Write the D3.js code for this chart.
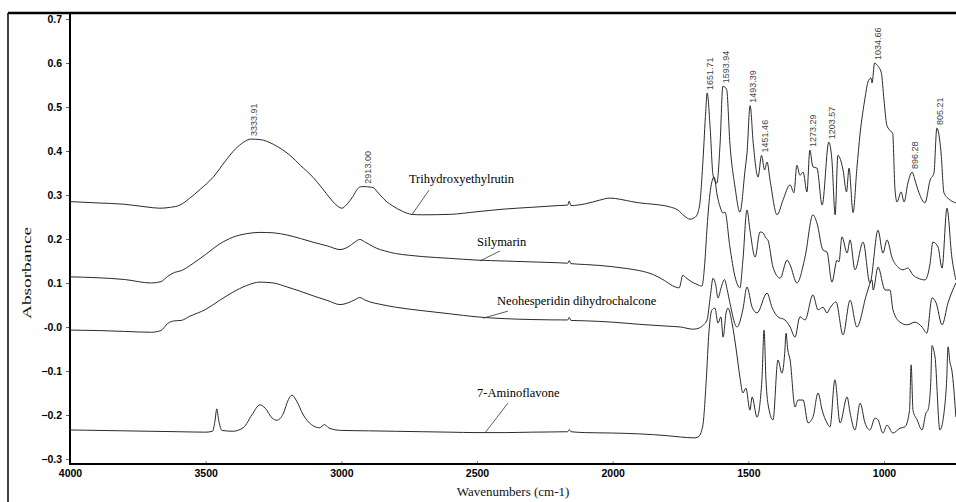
<!DOCTYPE html>
<html>
<head>
<meta charset="utf-8">
<title>FTIR spectra</title>
<script src="https://d3js.org/d3.v7.min.js"></script>
<style>
  html, body { margin: 0; padding: 0; background: #fff; }
  svg { display: block; }
  .tick text { font-family: "Liberation Sans", Arial, sans-serif; font-weight: bold; font-size: 10.5px; fill: #000; }
  .spectrum { fill: none; stroke: #2a2a2a; stroke-width: 1; }
  .peak-label { font-family: "Liberation Sans", Arial, sans-serif; font-size: 9px; fill: #444; }
  .series-label { font-family: "Liberation Serif", "Times New Roman", serif; font-size: 12.5px; fill: #000; }
  .axis-title { font-family: "Liberation Serif", "Times New Roman", serif; font-size: 13px; fill: #111; }
</style>
</head>
<body>
<div id="chart"></div>
<script>
// [wavenumber cm-1, absorbance]
var trihydroxyethylrutin = [
  [4000,0.285],[3900,0.282],[3800,0.279],[3720,0.273],[3670,0.270],[3630,0.272],[3595,0.277],[3560,0.292],
  [3520,0.313],[3473,0.340],[3430,0.375],[3390,0.405],[3360,0.420],[3333.91,0.427],[3300,0.426],[3250,0.415],
  [3189,0.390],[3150,0.367],[3104,0.340],[3070,0.315],[3042,0.293],[3020,0.278],[2998,0.270],[2978,0.280],
  [2957,0.297],[2940,0.314],[2925,0.319],[2913,0.319],[2895,0.318],[2883,0.317],[2870,0.309],[2857,0.300],
  [2835,0.286],[2810,0.275],[2775,0.263],[2740,0.256],[2700,0.255],[2600,0.256],[2500,0.262],[2400,0.268],
  [2300,0.272],[2200,0.276],[2166,0.277],[2160,0.286],[2154,0.276],[2100,0.280],[2050,0.288],[2010,0.293],
  [1970,0.290],[1930,0.285],[1900,0.282],[1850,0.279],[1790,0.273],[1760,0.266],[1735,0.252],[1715,0.245],
  [1695,0.250],[1680,0.275],[1667,0.380],[1657,0.490],[1651.71,0.532],[1641,0.455],[1630,0.345],[1616,0.327],
  [1604,0.418],[1593.94,0.547],[1580,0.540],[1568,0.418],[1549,0.318],[1531,0.261],[1512,0.357],[1505,0.395],
  [1493.39,0.503],[1482,0.418],[1464,0.341],[1451.46,0.390],[1440,0.357],[1431,0.375],[1420,0.334],[1394,0.255],
  [1372,0.289],[1346,0.323],[1332,0.305],[1321,0.368],[1310,0.345],[1298,0.352],[1284,0.307],[1273.29,0.402],
  [1262,0.364],[1247,0.361],[1228,0.277],[1203.57,0.420],[1192,0.380],[1180,0.255],[1170,0.390],[1151,0.357],
  [1138,0.307],[1129,0.361],[1114,0.260],[1100,0.360],[1088,0.440],[1070,0.520],[1059,0.557],[1048,0.566],
  [1044,0.555],[1034.66,0.600],[1025,0.595],[1010,0.578],[1000,0.516],[990,0.460],[980,0.448],[968,0.440],
  [960,0.318],[952,0.284],[937,0.307],[926,0.284],[912,0.327],[896.28,0.352],[886,0.334],[871,0.305],
  [849,0.282],[830,0.334],[816,0.350],[805.21,0.452],[790,0.398],[779,0.305],[757,0.289],[735,0.282]
];

var silymarin = [
  [4000,0.114],[3900,0.112],[3800,0.108],[3700,0.100],[3665,0.103],[3640,0.115],[3615,0.124],[3590,0.128],
  [3550,0.143],[3500,0.165],[3450,0.188],[3400,0.204],[3350,0.212],[3300,0.215],[3250,0.214],[3200,0.209],
  [3150,0.201],[3100,0.192],[3050,0.184],[3005,0.176],[2975,0.182],[2950,0.193],[2932,0.199],[2915,0.194],
  [2895,0.187],[2870,0.179],[2840,0.173],[2800,0.167],[2750,0.163],[2700,0.160],[2600,0.156],[2500,0.152],
  [2400,0.150],[2300,0.148],[2200,0.146],[2166,0.145],[2160,0.151],[2154,0.144],[2100,0.142],[2050,0.140],
  [2000,0.137],[1950,0.133],[1900,0.128],[1850,0.119],[1810,0.106],[1780,0.094],[1755,0.089],[1741,0.118],
  [1730,0.112],[1715,0.105],[1690,0.097],[1671,0.093],[1660,0.150],[1652,0.227],[1640,0.310],[1626,0.341],
  [1615,0.300],[1604,0.273],[1593,0.259],[1586,0.261],[1568,0.182],[1549,0.114],[1531,0.089],[1520,0.152],
  [1505,0.266],[1494,0.220],[1475,0.159],[1457,0.216],[1446,0.214],[1435,0.202],[1428,0.198],[1409,0.136],
  [1383,0.111],[1357,0.152],[1346,0.141],[1321,0.100],[1291,0.159],[1262,0.255],[1247,0.236],[1225,0.175],
  [1210,0.170],[1192,0.102],[1173,0.152],[1166,0.148],[1155,0.205],[1136,0.168],[1125,0.198],[1107,0.130],
  [1077,0.193],[1052,0.100],[1022,0.220],[1004,0.168],[989,0.198],[970,0.157],[948,0.136],[930,0.130],
  [912,0.134],[893,0.118],[875,0.111],[849,0.107],[830,0.145],[820,0.193],[801,0.182],[786,0.134],
  [768,0.270],[750,0.159],[735,0.107]
];

var neohesperidin = [
  [4000,-0.007],[3900,-0.008],[3800,-0.010],[3700,-0.012],[3665,-0.008],[3640,0.008],[3615,0.014],[3590,0.015],
  [3560,0.024],[3500,0.040],[3450,0.060],[3400,0.079],[3350,0.094],[3300,0.102],[3250,0.100],[3200,0.091],
  [3150,0.081],[3100,0.070],[3050,0.060],[3005,0.051],[2975,0.055],[2950,0.062],[2932,0.067],[2915,0.062],
  [2895,0.057],[2860,0.052],[2800,0.045],[2700,0.037],[2600,0.030],[2500,0.023],[2400,0.019],[2300,0.017],
  [2166,0.016],[2160,0.022],[2154,0.015],[2100,0.014],[2000,0.011],[1900,0.006],[1800,0.002],[1750,0.000],
  [1703,-0.005],[1680,-0.002],[1665,0.005],[1652,0.016],[1640,0.070],[1630,0.111],[1620,0.095],[1612,0.066],
  [1600,0.090],[1588,0.108],[1578,0.085],[1568,0.055],[1542,0.000],[1520,0.040],[1505,0.091],[1486,0.045],
  [1468,0.032],[1431,0.077],[1413,0.045],[1391,0.023],[1365,0.016],[1346,0.000],[1328,-0.023],[1310,0.023],
  [1291,0.016],[1262,0.073],[1243,0.039],[1225,0.045],[1210,0.032],[1199,0.043],[1177,0.057],[1151,-0.018],
  [1125,0.061],[1100,0.000],[1063,0.077],[1044,0.107],[1040,0.084],[1022,0.136],[996,0.084],[978,0.084],
  [967,0.039],[941,0.011],[915,0.005],[886,0.011],[860,0.000],[842,-0.014],[823,0.066],[808,0.055],
  [786,0.005],[764,0.055],[735,0.100]
];

var aminoflavone = [
  [4000,-0.234],[3800,-0.236],[3600,-0.238],[3500,-0.239],[3475,-0.237],[3466,-0.215],[3459,-0.186],[3452,-0.212],
  [3440,-0.235],[3400,-0.237],[3360,-0.228],[3330,-0.200],[3300,-0.177],[3280,-0.185],[3255,-0.207],[3237,-0.212],
  [3215,-0.198],[3195,-0.165],[3182,-0.155],[3165,-0.168],[3140,-0.200],[3110,-0.222],[3080,-0.229],[3062,-0.222],
  [3045,-0.230],[3000,-0.235],[2900,-0.236],[2800,-0.237],[2700,-0.238],[2600,-0.239],[2500,-0.240],[2400,-0.240],
  [2300,-0.239],[2166,-0.238],[2160,-0.233],[2154,-0.238],[2100,-0.240],[2000,-0.241],[1900,-0.243],[1800,-0.247],
  [1750,-0.250],[1700,-0.252],[1685,-0.250],[1668,-0.225],[1655,-0.120],[1645,-0.010],[1634,0.039],[1623,0.043],
  [1612,0.009],[1601,0.023],[1593,-0.023],[1582,0.032],[1575,0.043],[1560,0.009],[1545,-0.050],[1531,-0.114],
  [1520,-0.150],[1509,-0.139],[1494,-0.189],[1486,-0.159],[1468,-0.205],[1450,-0.120],[1442,-0.007],[1435,-0.120],
  [1428,-0.173],[1409,-0.211],[1391,-0.075],[1376,-0.105],[1366,-0.060],[1361,-0.014],[1355,-0.050],[1346,-0.075],
  [1328,-0.182],[1317,-0.166],[1298,-0.166],[1280,-0.218],[1262,-0.205],[1243,-0.150],[1228,-0.189],[1210,-0.218],
  [1199,-0.227],[1181,-0.120],[1162,-0.218],[1136,-0.159],[1125,-0.195],[1107,-0.234],[1088,-0.173],[1070,-0.218],
  [1052,-0.234],[1033,-0.207],[1022,-0.211],[1004,-0.241],[989,-0.223],[967,-0.241],[941,-0.230],[923,-0.227],
  [906,-0.190],[900,-0.086],[893,-0.190],[878,-0.211],[860,-0.234],[845,-0.195],[838,-0.189],[828,-0.130],
  [823,-0.042],[818,-0.050],[812,-0.068],[794,-0.234],[775,-0.173],[769,-0.120],[764,-0.045],[757,-0.080],
  [750,-0.098],[735,-0.205]
];

var seriesNames = ['Trihydroxyethylrutin', 'Silymarin', 'Neohesperidin dihydrochalcone', '7-Aminoflavone'];
var seriesData = [trihydroxyethylrutin, silymarin, neohesperidin, aminoflavone];

// name tag anchor (wavenumber, absorbance) and leader line ends
var labelAt = [[2751, 0.327], [2500, 0.184], [2426, 0.050], [2500, -0.159]];
var leaderFrom = [[2677, 0.311], [2415, 0.173], [2386, 0.036], [2386, -0.173]];
var leaderTo = [[2740, 0.255], [2489, 0.150], [2478, 0.020], [2471, -0.241]];

// peaks picked on the top spectrum
var peakLabels = [3333.91, 2913.00, 1651.71, 1593.94, 1493.39, 1451.46, 1273.29, 1203.57, 1034.66, 896.28, 805.21];

var xTicks = [4000, 3500, 3000, 2500, 2000, 1500, 1000];
var yTicks = [0.7, 0.6, 0.5, 0.4, 0.3, 0.2, 0.1, 0.0, -0.1, -0.2, -0.3];

var WIDTH = 956, HEIGHT = 502;
var PLOT_LEFT = 70, PLOT_TOP = 13, PLOT_BOTTOM = 464, PLOT_RIGHT = 956;

var svg = d3.select('#chart').append('svg')
    .attr('width', WIDTH)
    .attr('height', HEIGHT);

var x = d3.scaleLinear().domain([4000, 1000]).range([PLOT_LEFT, 884]);
var y = d3.scaleLinear().domain([-0.3, 0.7]).range([459, 19]);

svg.append('clipPath').attr('id', 'plot-clip')
  .append('rect')
    .attr('x', PLOT_LEFT)
    .attr('y', PLOT_TOP)
    .attr('width', PLOT_RIGHT - PLOT_LEFT)
    .attr('height', PLOT_BOTTOM - PLOT_TOP);

// outer frame of the figure
svg.append('line')
    .attr('x1', 8).attr('y1', PLOT_TOP).attr('x2', 8).attr('y2', HEIGHT)
    .attr('stroke', '#000').attr('stroke-width', 1.5);
svg.append('line')
    .attr('x1', 8).attr('y1', PLOT_TOP).attr('x2', WIDTH).attr('y2', PLOT_TOP)
    .attr('stroke', '#000').attr('stroke-width', 2.5);

var yAxis = d3.axisLeft(y)
    .tickValues(yTicks)
    .tickSize(4)
    .tickPadding(4)
    .tickFormat(function (d) {
      return Math.abs(d) < 1e-9 ? '-0.0' : d3.format('.1f')(d);
    });

var xAxis = d3.axisBottom(x)
    .tickValues(xTicks)
    .tickSize(-3)
    .tickPadding(6)
    .tickFormat(d3.format('d'));

var gy = svg.append('g').attr('transform', 'translate(' + PLOT_LEFT + ',0)').call(yAxis);
gy.select('.domain').remove();
gy.selectAll('.tick line').attr('stroke', '#666');

var gx = svg.append('g').attr('transform', 'translate(0,' + PLOT_BOTTOM + ')').call(xAxis);
gx.select('.domain').remove();
gx.selectAll('.tick line').attr('stroke', '#888');

// axis lines
svg.append('line')
    .attr('x1', PLOT_LEFT).attr('y1', PLOT_TOP).attr('x2', PLOT_LEFT).attr('y2', PLOT_BOTTOM + 1)
    .attr('stroke', '#000').attr('stroke-width', 2);
svg.append('line')
    .attr('x1', PLOT_LEFT - 1).attr('y1', PLOT_BOTTOM).attr('x2', WIDTH).attr('y2', PLOT_BOTTOM)
    .attr('stroke', '#000').attr('stroke-width', 2);

var line = d3.line()
    .x(function (d) { return x(d[0]); })
    .y(function (d) { return y(d[1]); })
    .curve(d3.curveMonotoneX);

var plot = svg.append('g').attr('clip-path', 'url(#plot-clip)');

plot.selectAll('path.spectrum')
    .data(seriesData)
  .enter().append('path')
    .attr('class', 'spectrum')
    .attr('d', line);

// series name tags with leader lines
seriesNames.forEach(function (name, i) {
  plot.append('line')
      .attr('x1', x(leaderFrom[i][0])).attr('y1', y(leaderFrom[i][1]))
      .attr('x2', x(leaderTo[i][0])).attr('y2', y(leaderTo[i][1]))
      .attr('stroke', '#333').attr('stroke-width', 0.8);
  plot.append('text')
      .attr('class', 'series-label')
      .attr('x', x(labelAt[i][0]))
      .attr('y', y(labelAt[i][1]))
      .text(name);
});

// rotated peak positions
peakLabels.forEach(function (wn) {
  var pt = trihydroxyethylrutin.find(function (d) { return d[0] === wn; });
  var px = x(wn) + 6, py = y(pt[1]) - 3;
  plot.append('text')
      .attr('class', 'peak-label')
      .attr('transform', 'translate(' + px + ',' + py + ') rotate(-90)')
      .text(wn.toFixed(2));
});

svg.append('text')
    .attr('class', 'axis-title')
    .attr('text-anchor', 'middle')
    .attr('x', 513)
    .attr('y', 496)
    .text('Wavenumbers (cm-1)');

// the original y title is stretched along the axis
svg.append('text')
    .attr('class', 'axis-title')
    .attr('text-anchor', 'middle')
    .attr('transform', 'translate(31,273) rotate(-90)')
    .attr('textLength', 92)
    .attr('lengthAdjust', 'spacingAndGlyphs')
    .text('Absorbance');
</script>
</body>
</html>
